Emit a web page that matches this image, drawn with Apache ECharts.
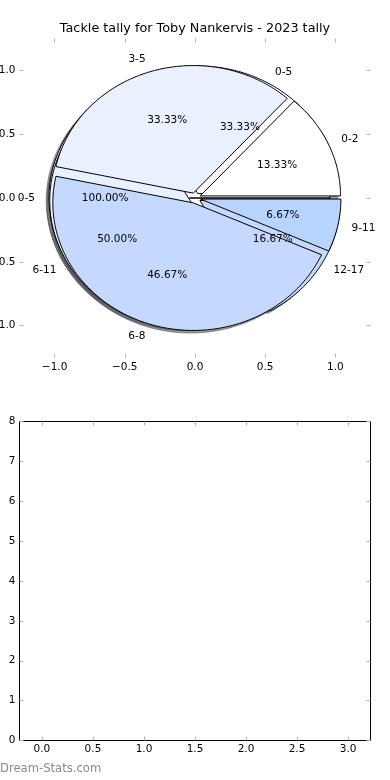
<!DOCTYPE html>
<html>
<head>
<meta charset="utf-8">
<script src="https://cdn.jsdelivr.net/npm/echarts@6/dist/echarts.min.js"></script>
<style>
html,body{margin:0;padding:0;background:#fff;}
#chart{width:390px;height:780px;}
</style>
</head>
<body>
<div id="chart"></div>
<script>
// ---- data ----
const chartTitle = 'Tackle tally for Toby Nankervis - 2023 tally';
const pieALabels = ['0-2', '3-5', '6-8', '9-11'];
const pieAValues = [13.33, 33.33, 46.67, 6.67];
const pieBLabels = ['0-5', '6-11', '12-17'];
const pieBValues = [33.33, 50.00, 16.67];
const pieCLabels = ['0-5'];
const pieCValues = [100.00];
const pieTicks = [-1.0, -0.5, 0.0, 0.5, 1.0];
const lowerXTicks = [0.0, 0.5, 1.0, 1.5, 2.0, 2.5, 3.0];
const lowerYTicks = [0, 1, 2, 3, 4, 5, 6, 7, 8];
const watermark = 'Dream-Stats.com';

// ---- styles ----
const palette = ['#ffffff', '#eaf1fe', '#c5d8fd', '#b7d5ff'];
const EXPLODE = 0.04;
const FONT = 'DejaVu Sans';
const TICK_COLOR = '#b4b4b4';
const RAD = Math.PI / 180;

function fmt(v) {
  const s = Math.abs(v).toFixed(1);
  return v < 0 ? '\u2212' + s : s;
}
function shadowColor(hex) {
  const r = parseInt(hex.substr(1, 2), 16), g = parseInt(hex.substr(3, 2), 16), b = parseInt(hex.substr(5, 2), 16);
  return 'rgba(' + Math.round(r * 0.3) + ',' + Math.round(g * 0.3) + ',' + Math.round(b * 0.3) + ',0.5)';
}
function geometry(values) {
  const total = values.reduce((a, b) => a + b, 0);
  let acc = 0;
  return values.map(v => {
    const t1 = acc / total * 360; acc += v; const t2 = acc / total * 360;
    return { t1: t1, t2: t2, tm: (t1 + t2) / 2 };
  });
}
function pieSeries(labels, values, kind, z) {
  const geo = geometry(values);
  const total = values.reduce((a, b) => a + b, 0);
  return {
    type: 'custom', xAxisIndex: 0, yAxisIndex: 0, z: z, silent: true, clip: false,
    data: values.map((v, i) => [v, i]),
    renderItem: function (params, api) {
      const i = params.dataIndex, g = geo[i];
      let cx = EXPLODE * Math.cos(g.tm * RAD), cy = EXPLODE * Math.sin(g.tm * RAD);
      if (kind === 'text') {
        const lx = cx + 1.1 * Math.cos(g.tm * RAD), ly = cy + 1.1 * Math.sin(g.tm * RAD);
        const px = cx + 0.6 * Math.cos(g.tm * RAD), py = cy + 0.6 * Math.sin(g.tm * RAD);
        const lp = api.coord([lx, ly]), pp = api.coord([px, py]);
        const pct = (api.value(0) / total * 100).toFixed(2) + '%';
        return {
          type: 'group', children: [
            { type: 'text', x: lp[0], y: lp[1], style: { text: labels[i], align: lx > 0 ? 'left' : 'right', verticalAlign: 'middle', fontSize: 10.5, fontFamily: FONT, fill: '#000' } },
            { type: 'text', x: pp[0], y: pp[1], style: { text: pct, align: 'center', verticalAlign: 'middle', fontSize: 10.5, fontFamily: FONT, fill: '#000' } }
          ]
        };
      }
      if (kind === 'shadow') { cx -= 0.02; cy -= 0.02; }
      const pts = [api.coord([cx, cy])];
      const n = Math.max(2, Math.ceil(g.t2 - g.t1));
      for (let k = 0; k <= n; k++) {
        const t = (g.t1 + (g.t2 - g.t1) * k / n) * RAD;
        pts.push(api.coord([cx + Math.cos(t), cy + Math.sin(t)]));
      }
      const col = palette[i % palette.length];
      const style = kind === 'shadow'
        ? { fill: shadowColor(col), stroke: shadowColor(col), lineWidth: 1 }
        : { fill: col, stroke: '#000', lineWidth: 1, lineJoin: 'miter' };
      return { type: 'polygon', shape: { points: pts }, style: style };
    }
  };
}

const tickStyle = { show: true, inside: true, length: 4, lineStyle: { color: TICK_COLOR, width: 1 } };
const labelStyle = { fontSize: 10.5, fontFamily: FONT, color: '#000' };

const option = {
  animation: false,
  backgroundColor: '#fff',
  title: { text: chartTitle, left: 'center', top: 22, padding: 0, textStyle: { fontSize: 12.8, fontWeight: 'normal', fontFamily: FONT, color: '#000' } },
  graphic: [{ type: 'text', left: 0, top: 763, style: { text: watermark, fontSize: 11.6, fontFamily: FONT, fill: '#8a8a8a', fontWeight: 'normal' } }],
  grid: [
    { left: 19.5, right: 19.5, top: 38.5, height: 319, show: false, containLabel: false, outerBoundsMode: 'none' },
    { left: 19.5, right: 19.5, top: 421.5, height: 319, show: true, borderColor: '#000', borderWidth: 1, backgroundColor: 'transparent', containLabel: false, outerBoundsMode: 'none' }
  ],
  xAxis: [
    { type: 'value', gridIndex: 0, position: 'bottom', min: -1.25, max: 1.25, axisLine: { show: false, onZero: false }, splitLine: { show: false },
      axisTick: Object.assign({ customValues: pieTicks }, tickStyle), axisLabel: Object.assign({ customValues: pieTicks, margin: 4, formatter: fmt }, labelStyle) },
    { type: 'value', gridIndex: 0, position: 'top', min: -1.25, max: 1.25, axisLine: { show: false, onZero: false }, splitLine: { show: false },
      axisTick: Object.assign({ customValues: pieTicks }, tickStyle), axisLabel: { show: false } },
    { type: 'value', gridIndex: 1, position: 'bottom', min: -0.22, max: 3.22, axisLine: { show: false, onZero: false }, splitLine: { show: false },
      axisTick: Object.assign({ customValues: lowerXTicks }, tickStyle), axisLabel: Object.assign({ customValues: lowerXTicks, margin: 3, formatter: fmt }, labelStyle) },
    { type: 'value', gridIndex: 1, position: 'top', min: -0.22, max: 3.22, axisLine: { show: false, onZero: false }, splitLine: { show: false },
      axisTick: Object.assign({ customValues: lowerXTicks }, tickStyle), axisLabel: { show: false } }
  ],
  yAxis: [
    { type: 'value', gridIndex: 0, position: 'left', min: -1.25, max: 1.25, axisLine: { show: false, onZero: false }, splitLine: { show: false },
      axisTick: Object.assign({ customValues: pieTicks }, tickStyle), axisLabel: Object.assign({ customValues: pieTicks, margin: 4, formatter: fmt }, labelStyle) },
    { type: 'value', gridIndex: 0, position: 'right', min: -1.25, max: 1.25, axisLine: { show: false, onZero: false }, splitLine: { show: false },
      axisTick: Object.assign({ customValues: pieTicks }, tickStyle), axisLabel: { show: false } },
    { type: 'value', gridIndex: 1, position: 'left', min: 0, max: 8, interval: 1, axisLine: { show: false, onZero: false }, splitLine: { show: false },
      axisTick: Object.assign({ customValues: lowerYTicks }, tickStyle), axisLabel: Object.assign({ customValues: lowerYTicks, margin: 4, formatter: v => String(v) }, labelStyle) },
    { type: 'value', gridIndex: 1, position: 'right', min: 0, max: 8, interval: 1, axisLine: { show: false, onZero: false }, splitLine: { show: false },
      axisTick: Object.assign({ customValues: lowerYTicks }, tickStyle), axisLabel: { show: false } }
  ],
  series: [
    pieSeries(pieCLabels, pieCValues, 'shadow', 1),
    pieSeries(pieBLabels, pieBValues, 'shadow', 1),
    pieSeries(pieALabels, pieAValues, 'shadow', 1),
    pieSeries(pieCLabels, pieCValues, 'wedge', 2),
    pieSeries(pieBLabels, pieBValues, 'wedge', 2),
    pieSeries(pieALabels, pieAValues, 'wedge', 2),
    pieSeries(pieCLabels, pieCValues, 'text', 3),
    pieSeries(pieBLabels, pieBValues, 'text', 3),
    pieSeries(pieALabels, pieAValues, 'text', 3),
    { type: 'scatter', xAxisIndex: 2, yAxisIndex: 2, data: [] }
  ]
};
const chart = echarts.init(document.getElementById('chart'), null, { renderer: 'canvas' });
chart.setOption(option);
</script>
</body>
</html>
